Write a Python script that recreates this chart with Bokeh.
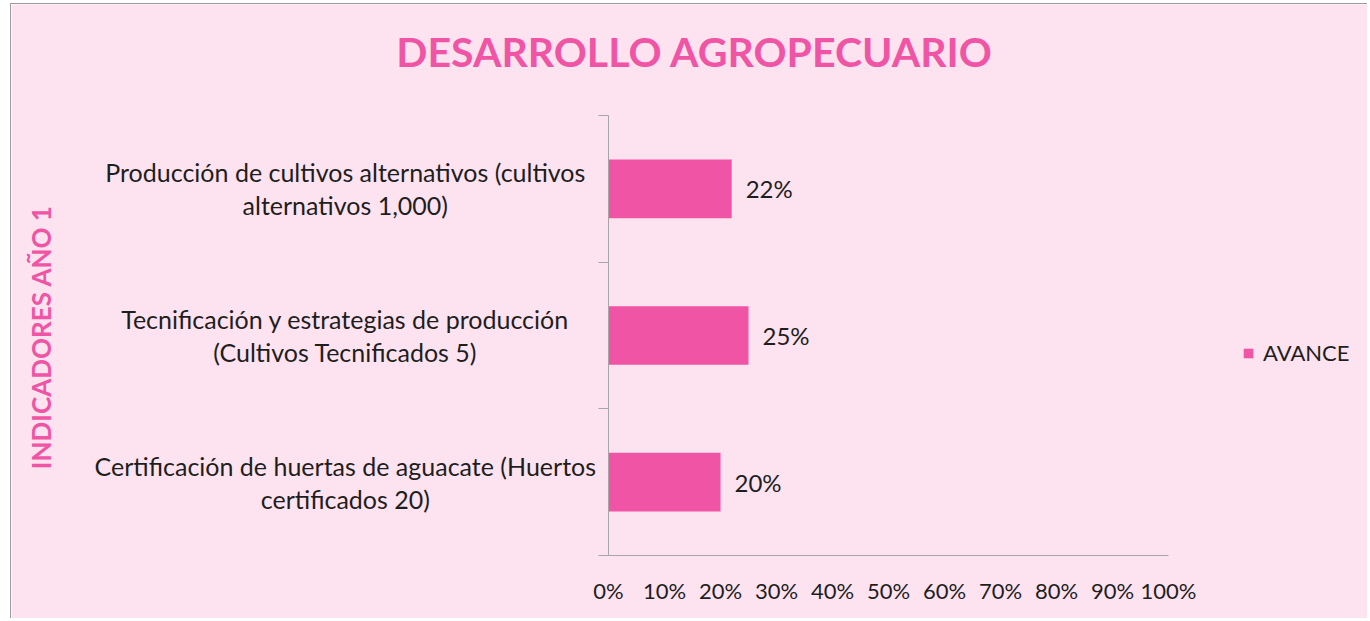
import math
from bokeh.plotting import figure
from bokeh.models import (Range1d, FixedTicker, NumeralTickFormatter, Label,
                          Legend, LegendItem, ColumnDataSource, LinearAxis)
from bokeh.core.properties import value
from bokeh.embed import file_html
from bokeh.resources import INLINE

# ---- data ----
categories = [
    "Certificación de huertas de aguacate (Huertos\ncertificados 20)",
    "Tecnificación y estrategias de producción\n(Cultivos Tecnificados 5)",
    "Producción de cultivos alternativos (cultivos\nalternativos 1,000)",
]
avance = [0.20, 0.25, 0.22]
avance_labels = ["20%", "25%", "22%"]
x_ticks = [0.0, 0.1, 0.2, 0.3, 0.4, 0.5, 0.6, 0.7, 0.8, 0.9, 1.0]
title_text = "DESARROLLO AGROPECUARIO"
y_title_text = "INDICADORES  AÑO 1"
series_name = "AVANCE"

# ---- style ----
PINK = "#F055A5"
BG = "#FDE3EF"
AXIS = "#A6A6A6"
TXT = "#1E1E1E"
FONT = "Lato"

positions = [i + 0.5 for i in range(len(categories))]
boundaries = list(range(len(categories) + 1))

W, H = 1357, 615
# the frame fills the canvas; axes are pinned at data 0
p = figure(width=W, height=H, output_backend="svg", toolbar_location=None,
           title=None, x_axis_location=None, y_axis_location=None,
           x_range=Range1d(-1.06607, 1.35714), y_range=Range1d(-0.43636, 3.75682),
           min_border=0)
p.styles = {"border-left": "1px solid #9B9B9B", "border-top": "1px solid #9B9B9B",
            "margin-left": "10px", "margin-top": "3px"}
p.background_fill_color = BG
p.border_fill_color = BG
p.outline_line_color = None
p.grid.visible = False

xa = LinearAxis(fixed_location=0, bounds=(0, 1))
xa.ticker = FixedTicker(ticks=x_ticks)
xa.formatter = NumeralTickFormatter(format="0%")
xa.major_tick_out = 0
xa.major_tick_in = 0
xa.minor_tick_out = 0
xa.minor_tick_in = 0
xa.axis_line_color = AXIS
xa.major_label_text_font = FONT
xa.major_label_text_font_size = "22px"
xa.major_label_text_color = TXT
xa.major_label_standoff = 21
p.add_layout(xa, "below")

ya = LinearAxis(fixed_location=0, bounds=(0, len(categories)))
ya.ticker = FixedTicker(ticks=[], minor_ticks=boundaries)
ya.major_tick_out = 0
ya.major_tick_in = 0
ya.minor_tick_out = 10
ya.minor_tick_in = 0
ya.minor_tick_line_color = AXIS
ya.axis_line_color = AXIS
ya.major_label_text_font_size = "0px"
p.add_layout(ya, "left")

src = ColumnDataSource(dict(y=positions, v=avance, lab=avance_labels))
bars = p.hbar(y="y", left=0, right="v", height=0.4, source=src,
              fill_color=PINK, line_color=None)
p.text(x="v", y="y", text="lab", source=src, x_offset=14,
       text_align="left", text_baseline="middle",
       text_font=value(FONT), text_font_size="24px", text_color=TXT)

# category labels
for pos, cat in zip(positions, categories):
    p.add_layout(Label(x=-0.47, y=pos, text=cat, text_align="center",
                       text_baseline="middle", text_font=FONT,
                       text_font_size="25px", text_line_height=1.1,
                       text_color=TXT))

# title
p.add_layout(Label(x=0.154, y=3.437, text=title_text, text_align="center",
                   text_baseline="middle", text_font=FONT,
                   text_font_style="bold", text_font_size="41px",
                   text_color=PINK))
# y axis title
p.add_layout(Label(x=-1.014, y=1.51, text=y_title_text, angle=math.pi / 2,
                   text_align="center", text_baseline="middle",
                   text_font=FONT, text_font_style="bold",
                   text_font_size="26px", text_color=PINK))

legend = Legend(items=[LegendItem(label=series_name, renderers=[bars])],
                location=(1231, 253), padding=0, margin=0,
                glyph_width=12, glyph_height=12, label_standoff=9,
                border_line_color=None, background_fill_alpha=0,
                label_text_font=FONT, label_text_font_size="22px",
                label_text_color=TXT)
p.add_layout(legend)

open("out.html", "w").write(file_html(p, INLINE))
